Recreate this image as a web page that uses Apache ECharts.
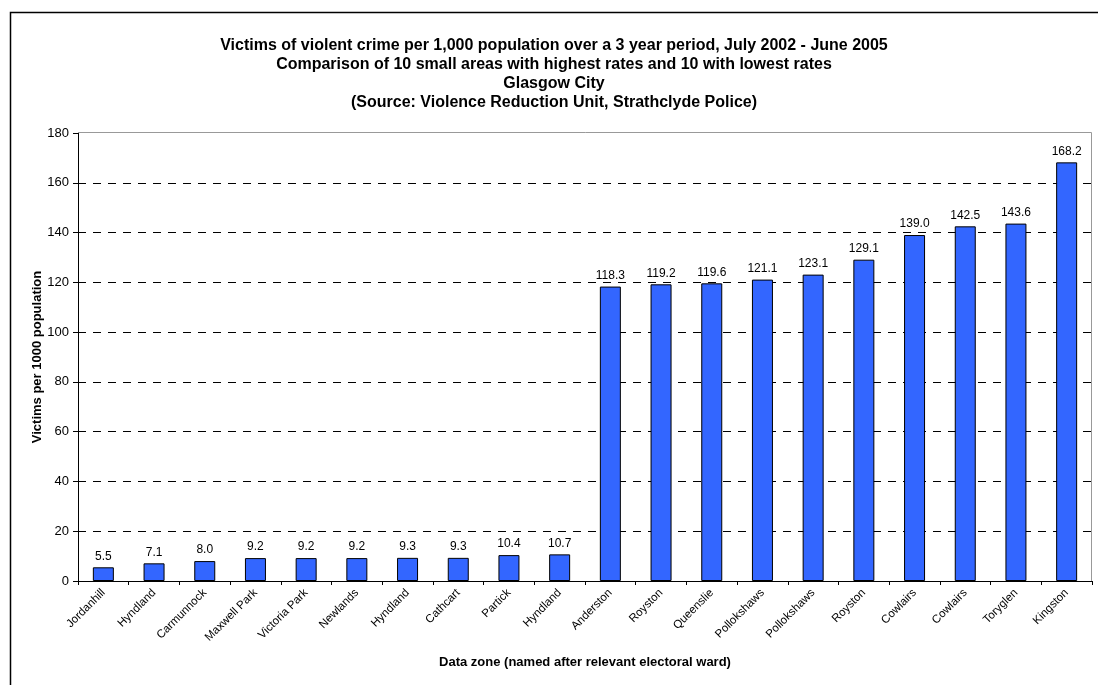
<!DOCTYPE html>
<html><head><meta charset="utf-8">
<script src="https://cdn.jsdelivr.net/npm/echarts@6/dist/echarts.min.js"></script>
<style>html,body{margin:0;padding:0;background:#fff}#c{width:1098px;height:685px}</style>
</head><body><div id="c"></div>
<script>
const categories = ["Jordanhill","Hyndland","Carmunnock","Maxwell Park","Victoria Park","Newlands","Hyndland","Cathcart","Partick","Hyndland","Anderston","Royston","Queenslie","Pollokshaws","Pollokshaws","Royston","Cowlairs","Cowlairs","Toryglen","Kingston"];
const values = [5.5,7.1,8.0,9.2,9.2,9.2,9.3,9.3,10.4,10.7,118.3,119.2,119.6,121.1,123.1,129.1,139.0,142.5,143.6,168.2];
const titleLines = ["Victims of violent crime per 1,000 population over a 3 year period, July 2002 - June 2005","Comparison of 10 small areas with highest rates and 10 with lowest rates","Glasgow City","(Source: Violence Reduction Unit, Strathclyde Police)"];
const yName = "Victims per 1000 population";
const xName = "Data zone (named after relevant electoral ward)";

const FONT = 'Arial, "Liberation Sans", sans-serif';
const chart = echarts.init(document.getElementById('c'));
chart.setOption({
  animation: false,
  title: {
    text: titleLines.join('\n'), left: 549, top: 31, textAlign: 'center',
    textStyle: {fontFamily: FONT, fontSize: 16, fontWeight: 'bold', color: '#000', lineHeight: 19}
  },
  graphic: [{type:'rect', shape:{x:10.5, y:12.5, width:1100, height:700}, style:{fill:'none', stroke:'#000', lineWidth:1.5}},
            {type:'polyline', shape:{points:[[79,132.5],[1091.5,132.5],[1091.5,581]]}, style:{fill:'none', stroke:'#999', lineWidth:1}, z:10}],
  grid: {left: 78, right: 6, top: 133, bottom: 104, containLabel: false},
  xAxis: {
    type: 'category', data: categories,
    name: xName, nameLocation: 'middle', nameGap: 75, nameMoveOverlap: false,
    nameTextStyle: {fontFamily: FONT, fontSize: 13, fontWeight: 'bold', color: '#000'},
    axisLine: {lineStyle: {color: '#000', width: 1}},
    axisTick: {show: true, alignWithLabel: false, length: 4, lineStyle: {color: '#000'}},
    axisLabel: {rotate: 45, interval: 0, fontFamily: FONT, fontSize: 11.5, color: '#000', margin: 10}
  },
  yAxis: {
    type: 'value', min: 0, max: 180, interval: 20,
    name: yName, nameLocation: 'middle', nameGap: 34, nameMoveOverlap: false,
    nameTextStyle: {fontFamily: FONT, fontSize: 13, fontWeight: 'bold', color: '#000'},
    axisLine: {show: true, lineStyle: {color: '#000', width: 1}},
    axisTick: {show: true, length: 5, lineStyle: {color: '#000'}},
    axisLabel: {fontFamily: FONT, fontSize: 13, color: '#000', margin: 9},
    splitLine: {show: true, showMaxLine: false, lineStyle: {color: '#000', type: [8, 7], width: 1}}
  },
  series: [{
    type: 'bar', data: values, barWidth: 21,
    itemStyle: {color: '#3366FF', borderColor: '#000', borderWidth: 1},
    label: {show: true, position: 'top', distance: 5, formatter: p => p.value.toFixed(1),
      fontFamily: FONT, fontSize: 12, color: '#000'}
  }]
});
</script></body></html>
